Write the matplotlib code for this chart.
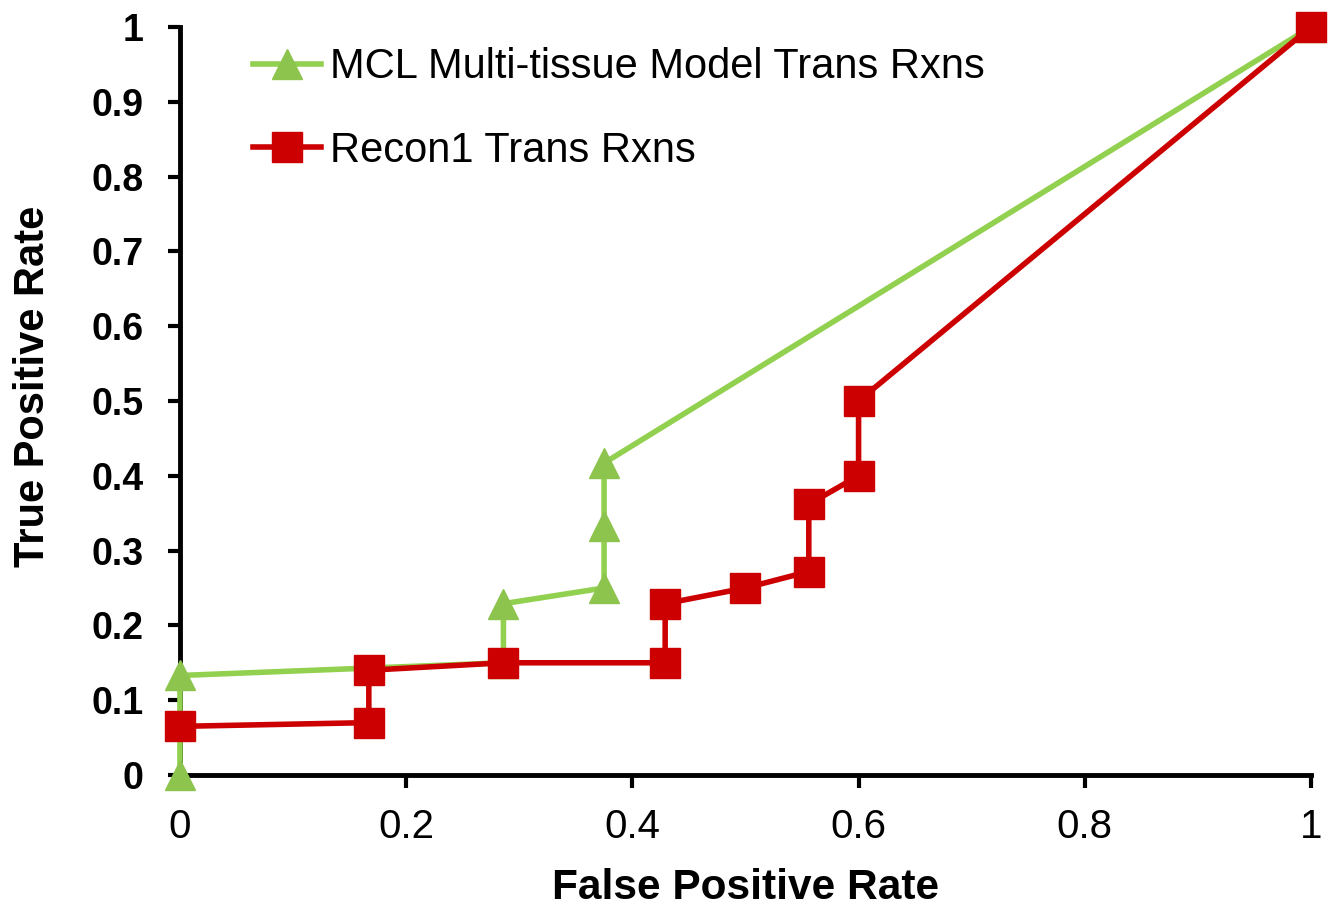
import matplotlib.pyplot as plt
from matplotlib.lines import Line2D

# ROC points
mcl_fpr = [0, 0, 0.286, 0.286, 0.375, 0.375, 0.375, 1]
mcl_tpr = [0, 0.133, 0.15, 0.229, 0.25, 0.333, 0.417, 1]

recon_fpr = [0, 0.167, 0.167, 0.286, 0.429, 0.429, 0.5, 0.556, 0.556, 0.6, 0.6, 1]
recon_tpr = [0.065, 0.07, 0.14, 0.15, 0.15, 0.229, 0.25, 0.272, 0.362, 0.4, 0.5, 1]

labels = ['MCL Multi-tissue Model Trans Rxns', 'Recon1 Trans Rxns']
xticks = [0, 0.2, 0.4, 0.6, 0.8, 1]
yticks = [0, 0.1, 0.2, 0.3, 0.4, 0.5, 0.6, 0.7, 0.8, 0.9, 1]

green = '#92D050'
red = '#CC0000'
font = ['Liberation Sans', 'DejaVu Sans']

fig = plt.figure(figsize=(13.3, 9.08), dpi=100)
ax = fig.add_axes([0.1353, 0.1465, 0.8504, 0.8238])

ax.plot(mcl_fpr, mcl_tpr, '-', color=green, lw=4, marker='^', ms=21,
        mfc='#8DC44E', mec='#8DC44E', clip_on=False, zorder=3)
ax.plot(recon_fpr, recon_tpr, '-', color=red, lw=4, marker='s', ms=21,
        mfc=red, mec=red, clip_on=False, zorder=4)

ax.set_xlim(0, 1)
ax.set_ylim(0, 1)
for s in ['top', 'right']:
    ax.spines[s].set_visible(False)
for s in ['left', 'bottom']:
    ax.spines[s].set_linewidth(3.5)

ax.set_xticks(xticks)
ax.set_xticklabels(['0', '0.2', '0.4', '0.6', '0.8', '1'], family=font, fontsize=29)
ax.set_yticks(yticks)
ax.set_yticklabels(['0', '0.1', '0.2', '0.3', '0.4', '0.5', '0.6', '0.7', '0.8', '0.9', '1'],
                   family=font, fontsize=27, fontweight='bold')
ax.tick_params(axis='both', direction='out', length=9, width=3)
ax.tick_params(axis='y', pad=17)
ax.tick_params(axis='x', pad=15)

ax.set_xlabel('False Positive Rate', family=font, fontsize=30.5, fontweight='bold')
ax.xaxis.set_label_coords(0.5, -0.125)
ax.set_ylabel('True Positive Rate', family=font, fontsize=30, fontweight='bold')
ax.yaxis.set_label_coords(-0.112, 0.52)

handles = [
    Line2D([], [], color=green, lw=4, marker='^', ms=21, mfc='#8DC44E', mec='#8DC44E'),
    Line2D([], [], color=red, lw=4, marker='s', ms=21, mfc=red, mec=red),
]
ax.legend(handles, labels, loc='upper left', bbox_to_anchor=(0.031, 1.023), frameon=False,
          prop={'family': font, 'size': 30}, handlelength=1.65, handletextpad=0.2,
          labelspacing=1.04, borderpad=0.4)

fig.savefig('out.png', dpi=100)
